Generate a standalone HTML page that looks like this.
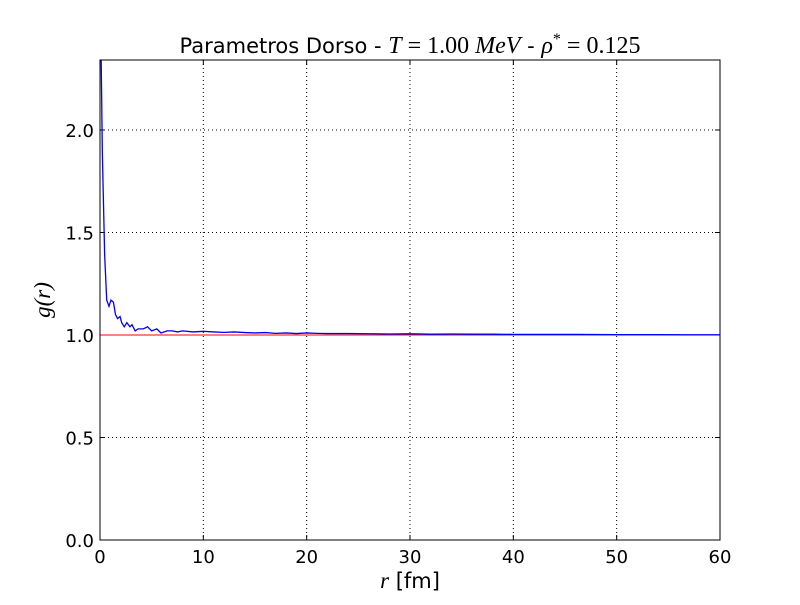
<!DOCTYPE html>
<html><head><meta charset="utf-8"><style>
body{margin:0;background:#fff}
svg text{font-family:"DejaVu Sans","Liberation Sans",sans-serif}
.m{font-family:"Liberation Serif",serif}
</style></head><body>
<svg width="800" height="600" viewBox="0 0 800 600">
<g id="grid"></g>
<g id="ticks"></g>
<defs><clipPath id="clip"><rect x="100" y="60" width="620" height="480"/></clipPath></defs>
<line id="ref" stroke="#ff0000" stroke-width="1"/>
<polyline id="curve" fill="none" stroke="#0000ff" stroke-width="1.3" clip-path="url(#clip)"/>
<rect x="100" y="60" width="620" height="480" fill="none" stroke="#000" stroke-width="1"/>
<text x="410" y="53" text-anchor="middle" font-size="21">Parametros Dorso - <tspan class="m" font-style="italic" font-size="24">T</tspan><tspan class="m" font-size="24"> = 1.00 </tspan><tspan class="m" font-style="italic" font-size="24">MeV</tspan> - <tspan class="m" font-style="italic" font-size="24">ρ</tspan><tspan class="m" font-size="16" dy="-9">*</tspan><tspan class="m" font-size="24" dy="9"> = 0.125</tspan></text>
<text x="410" y="588" text-anchor="middle" font-size="21"><tspan class="m" font-style="italic" font-size="23">r</tspan> [fm]</text>
<text transform="translate(50,300) rotate(-90)" text-anchor="middle" font-size="23" class="m" font-style="italic">g(r)</text>
</svg>
<script>
const xTicks=[0,10,20,30,40,50,60];
const yTicks=[0.0,0.5,1.0,1.5,2.0];
const rVals=[0.05,0.1,0.23,0.45,0.65,0.87,1.06,1.3,1.5,1.7,1.94,2.1,2.35,2.6,2.9,3.1,3.4,3.7,4.2,4.6,5,5.5,5.9,6.5,7,7.5,8,9,10,11,12,13,14,15,16,17,18,19,20,21,22,24,26,28,30,32,34,36,38,40,43,46,50,54,57,60];
const gVals=[3.0,2.4,1.88,1.39,1.17,1.14,1.17,1.16,1.10,1.08,1.09,1.06,1.04,1.06,1.04,1.05,1.02,1.03,1.03,1.04,1.02,1.03,1.01,1.02,1.02,1.015,1.02,1.015,1.018,1.015,1.013,1.015,1.012,1.01,1.012,1.008,1.01,1.007,1.01,1.008,1.007,1.007,1.006,1.005,1.006,1.004,1.005,1.004,1.004,1.003,1.003,1.003,1.002,1.002,1.001,1.001];
const refVal=1.0;
const X0=100,X1=720,Y0=540,Y1=60,XMAX=60,YMAX=2.3415;
const sx=v=>X0+(v/XMAX)*(X1-X0);
const sy=v=>Y0-(v/YMAX)*(Y0-Y1);
const NS="http://www.w3.org/2000/svg";
const grid=document.getElementById('grid'),ticks=document.getElementById('ticks');
function mk(tag,attrs,parent){const e=document.createElementNS(NS,tag);for(const k in attrs)e.setAttribute(k,attrs[k]);parent.appendChild(e);return e;}
xTicks.forEach(t=>{const x=sx(t);
 const g=mk('line',{x1:x,x2:x,y1:Y1,y2:Y0,stroke:'#000','stroke-dasharray':'1,3','stroke-width':1},grid);
 
 
 mk('line',{x1:x,x2:x,y1:Y0,y2:Y0-5,stroke:'#000'},ticks);
 mk('line',{x1:x,x2:x,y1:Y1,y2:Y1+5,stroke:'#000'},ticks);
 const tx=mk('text',{x:x,y:Y0+23,'text-anchor':'middle','font-size':18},ticks);
 tx.textContent=t;
 
 
});
yTicks.forEach(t=>{const y=sy(t);
 const g=mk('line',{x1:X0,x2:X1,y1:y,y2:y,stroke:'#000','stroke-dasharray':'1,3','stroke-width':1},grid);
 
 
 mk('line',{x1:X0,x2:X0+5,y1:y,y2:y,stroke:'#000'},ticks);
 mk('line',{x1:X1,x2:X1-5,y1:y,y2:y,stroke:'#000'},ticks);
 const tx=mk('text',{x:X0-6,y:y+7,'text-anchor':'end','font-size':18},ticks);
 tx.textContent=t.toFixed(1);
 
 
});
const ref=document.getElementById('ref');
ref.setAttribute('x1',sx(0));ref.setAttribute('x2',sx(XMAX));
ref.setAttribute('y1',sy(refVal));ref.setAttribute('y2',sy(refVal));
document.getElementById('curve').setAttribute('points',rVals.map((r,i)=>sx(r)+','+sy(gVals[i])).join(' '));
</script>
</body></html>
